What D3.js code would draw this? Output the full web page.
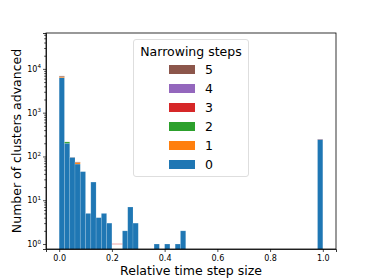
<!DOCTYPE html>
<html>
<head>
  <script src='https://d3js.org/d3.v7.min.js'></script>
  <style>
    body { margin: 0; background: #fff; }
    text { font-family: 'DejaVu Sans', sans-serif; fill: #000; }
  </style>
</head>
<body>
<script>
// histogram bins (lower edge of each non-empty bin, bin width 0.02)
var binLo = [0.00, 0.02, 0.04, 0.06, 0.08, 0.10, 0.12, 0.14, 0.16, 0.18,
             0.20, 0.22, 0.24, 0.26, 0.28, 0.36, 0.40, 0.44, 0.46, 0.98];
var binWidth = 0.02;

// counts per narrowing step, stacked
var step0 = [6300, 200, 95, 67, 45, 5, 26, 4, 5, 3, 0, 0, 2, 7, 3, 1, 1, 1, 2, 245];
var step1 = [350, 0, 0, 6, 0, 0, 0, 0, 0, 0, 0, 0, 0, 0, 0, 0, 0, 0, 0, 0];
var step2 = [0, 15, 0, 0, 0, 0, 0, 0, 0, 0, 0, 0, 0, 0, 0, 0, 0, 0, 0, 0];
var step3 = [0, 0, 0, 0, 0, 0, 0, 0, 0, 0, 1, 1, 0, 0, 0, 0, 0, 0, 0, 3];
var step4 = [0, 0, 0, 0, 0, 0, 0, 0, 0, 0, 0, 0, 0, 0, 0, 0, 0, 0, 0, 0];
var step5 = [250, 0, 1, 2, 0, 0, 0, 0, 0, 0, 0, 0, 0, 0, 0, 0, 0, 0, 0, 0];

var stepNames = ['0', '1', '2', '3', '4', '5'];
var stepColors = ['#1f77b4', '#ff7f0e', '#2ca02c', '#d62728', '#9467bd', '#8c564b'];
var xTicks = [0, 0.2, 0.4, 0.6, 0.8, 1.0];
var yTicks = [1, 10, 100, 1000, 10000];

var width = 374, height = 280;
var pLeft = 46, pRight = 336, pTop = 33, pBottom = 249;

var svg = d3.select('body').append('svg')
  .attr('width', width)
  .attr('height', height);

var x = d3.scaleLinear().domain([-0.05, 1.05]).range([pLeft, pRight]);
var y = d3.scaleLog().domain([0.77, 66000]).range([pBottom, pTop]);

// build table for stacking
var steps = [step0, step1, step2, step3, step4, step5];
var rows = binLo.map(function(b, i) {
  var r = { lo: b };
  stepNames.forEach(function(k, j) { r[k] = steps[j][i]; });
  return r;
});
var stacked = d3.stack().keys(stepNames)(rows);

svg.append('clipPath').attr('id', 'clip')
  .append('rect')
  .attr('x', pLeft).attr('y', pTop)
  .attr('width', pRight - pLeft).attr('height', pBottom - pTop);

var bars = svg.append('g').attr('clip-path', 'url(#clip)');

stacked.forEach(function(layer, j) {
  var g = bars.append('g');
  layer.forEach(function(d) {
    if (d[1] <= d[0]) return;
    var x0 = x(d.data.lo), x1 = x(d.data.lo + binWidth);
    if (d[0] <= 0 && j > 0) {
      // bar starting at zero on a log axis: only its top edge shows
      g.append('line')
        .attr('x1', x0).attr('x2', x1)
        .attr('y1', y(d[1])).attr('y2', y(d[1]))
        .attr('stroke', stepColors[j])
        .attr('stroke-opacity', 0.4)
        .attr('stroke-width', 1);
      return;
    }
    var yb = d[0] <= 0 ? pBottom + 2 : y(d[0]);
    g.append('rect')
      .attr('x', x0)
      .attr('width', x1 - x0)
      .attr('y', y(d[1]))
      .attr('height', yb - y(d[1]))
      .attr('fill', stepColors[j])
      .attr('stroke', '#fff')
      .attr('stroke-opacity', 0.2)
      .attr('stroke-width', 0.7);
  });
});

// axes
var xAxis = svg.append('g')
  .attr('transform', 'translate(0,' + pBottom + ')')
  .call(d3.axisBottom(x).tickValues(xTicks).tickFormat(d3.format('.1f')).tickSize(3).tickPadding(3));
xAxis.selectAll('text').style('font-size', '8px');

svg.append('g')
  .attr('transform', 'translate(' + pLeft + ',0)')
  .call(d3.axisLeft(y).tickValues(yTicks).tickFormat('').tickSize(3));

var minor = [];
yTicks.forEach(function(p) {
  for (var m = 2; m < 10; m++) {
    var v = p * m;
    if (v < 66000) minor.push(v);
  }
});
svg.append('g')
  .attr('transform', 'translate(' + pLeft + ',0)')
  .call(d3.axisLeft(y).tickValues(minor).tickFormat('').tickSize(1.8))
  .call(function(g) { g.select('.domain').remove(); });

yTicks.forEach(function(v) {
  var t = svg.append('text')
    .attr('x', pLeft - 5)
    .attr('y', y(v) + 3)
    .attr('text-anchor', 'end')
    .style('font-size', '8px');
  t.append('tspan').text('10');
  t.append('tspan').attr('dy', -3.5).style('font-size', '5.6px').text(Math.round(Math.log10(v)));
});

svg.selectAll('.domain').attr('stroke', '#000').attr('stroke-width', 0.8);
svg.selectAll('.tick line').attr('stroke-width', 0.7);

// frame
svg.append('rect')
  .attr('x', pLeft).attr('y', pTop)
  .attr('width', pRight - pLeft).attr('height', pBottom - pTop)
  .attr('fill', 'none')
  .attr('stroke', '#000')
  .attr('stroke-width', 0.8);

// axis titles
svg.append('text')
  .attr('x', (pLeft + pRight) / 2)
  .attr('y', 275)
  .attr('text-anchor', 'middle')
  .style('font-size', '12.5px')
  .text('Relative time step size');

svg.append('text')
  .attr('transform', 'translate(21,' + (pTop + pBottom) / 2 + ') rotate(-90)')
  .attr('text-anchor', 'middle')
  .style('font-size', '12.5px')
  .text('Number of clusters advanced');

// legend
var legend = svg.append('g');
legend.append('rect')
  .attr('x', 133.5).attr('y', 39.5)
  .attr('width', 115).attr('height', 137)
  .attr('rx', 2.5)
  .attr('fill', '#fff')
  .attr('fill-opacity', 0.8)
  .attr('stroke', '#d6d6d6')
  .attr('stroke-width', 0.8);

legend.append('text')
  .attr('x', 191)
  .attr('y', 56)
  .attr('text-anchor', 'middle')
  .style('font-size', '12.5px')
  .text('Narrowing steps');

var order = stepNames.slice().reverse();
order.forEach(function(k, i) {
  var cy = 69.5 + i * 19;
  legend.append('rect')
    .attr('x', 169).attr('y', cy - 4.5)
    .attr('width', 26).attr('height', 9)
    .attr('fill', stepColors[+k]);
  legend.append('text')
    .attr('x', 205)
    .attr('y', cy + 4.5)
    .style('font-size', '12.5px')
    .text(k);
});
</script>
</body>
</html>
